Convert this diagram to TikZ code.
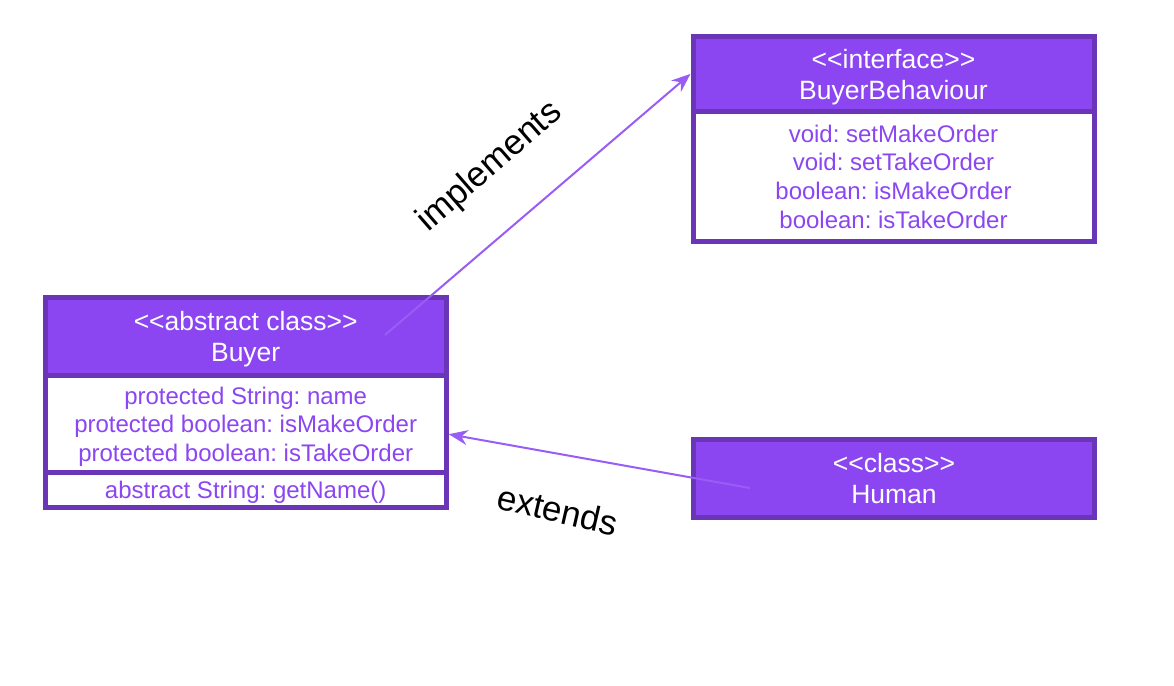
\documentclass[tikz,border=0pt]{standalone}
\usepackage{fontspec}
\setmainfont{Liberation Sans}
\frenchspacing
\usetikzlibrary{arrows.meta}
\definecolor{umlfill}{HTML}{8B46F2}
\definecolor{umlline}{HTML}{6A35B6}
\tikzset{
  umlhead/.style={draw=umlline,fill=umlfill,line width=5pt,text=white,align=center,
    inner sep=0pt,minimum width=401pt,font=\fontsize{26.5}{31}\selectfont,text depth=-4.5pt},
  umlbody/.style={draw=umlline,fill=white,line width=5pt,text=umlfill,align=center,
    inner sep=0pt,minimum width=401pt,font=\fontsize{24}{28.7}\selectfont,text depth=-2pt},
  umlarrow/.style={draw=umlfill!88!white,line width=2pt,-{Stealth[length=19pt,width=15pt]}},
  umllabel/.style={font=\fontsize{35}{40}\selectfont,inner sep=0pt}
}
\begin{document}
\begin{tikzpicture}[x=1pt,y=-1pt]
\useasboundingbox (0,0) rectangle (1174,685);
% Interface: BuyerBehaviour
\node[umlhead,minimum height=75pt,text depth=-11pt] (ifhead) at (893.5,73.9) {<{}<interface>{}>\\BuyerBehaviour};
\node[umlbody,minimum height=130pt] (ifbody) at (893.5,176.5)
  {void: setMakeOrder\\void: setTakeOrder\\boolean: isMakeOrder\\boolean: isTakeOrder};
% Abstract class: Buyer
\node[umlhead,minimum height=77.5pt] (buyerhead) at (245.7,336.7) {<{}<abstract class>{}>\\Buyer};
\node[umlbody,minimum height=97.5pt] (buyerattr) at (245.7,424.2)
  {protected String: name\\protected boolean: isMakeOrder\\protected boolean: isTakeOrder};
\node[umlbody,minimum height=34.5pt] (buyerop) at (245.7,490.2) {abstract String: getName()};
% Class: Human
\node[umlhead,minimum height=77.5pt] (humanhead) at (894,478.7) {<{}<class>{}>\\Human};
% Relations
\coordinate (implfrom) at (385,335);
\coordinate (extfrom) at (750,488);
\draw[umlarrow] (implfrom) -- (ifhead.west);
\draw[umlarrow] (extfrom) -- ([yshift=-10pt]buyerattr.east);
\node[umllabel,rotate=41] (impllabel) at (490,167) {implements};
\node[umllabel,rotate=-13] (extlabel) at (558,510) {extends};
\end{tikzpicture}
\end{document}
